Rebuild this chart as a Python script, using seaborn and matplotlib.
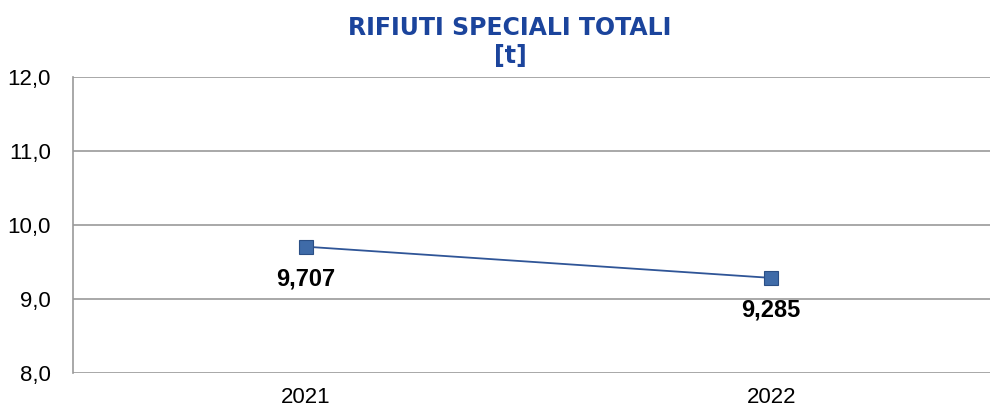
import matplotlib
matplotlib.use("Agg")
import matplotlib.pyplot as plt
import seaborn as sns
import pandas as pd
from matplotlib.ticker import FuncFormatter, FixedLocator

years = ["2021", "2022"]
values = [9.707, 9.285]
value_labels = ["9,707", "9,285"]
title = "RIFIUTI SPECIALI TOTALI\n[t]"

sns.set_style("white")
plt.rcParams['font.family'] = ['Liberation Sans', 'DejaVu Sans']

fig = plt.figure(figsize=(9.9, 4.09), dpi=100)
ax = fig.add_axes([73/990, 1 - 373/409, 1 - 73/990, (373 - 77)/409])

df = pd.DataFrame({"year": years, "value": values})
sns.lineplot(data=df, x="year", y="value", ax=ax, color="#2F5597", linewidth=1.3,
             marker="s", markersize=10, markerfacecolor="#3F6BA8",
             markeredgecolor="#2B4F85", markeredgewidth=0.8, sort=False)

ax.set_ylim(8, 12)
ax.set_xlim(-0.5, 1.47)
ax.yaxis.set_major_locator(FixedLocator([8, 9, 10, 11, 12]))
ax.yaxis.set_major_formatter(FuncFormatter(lambda v, p: f"{v:.1f}".replace(".", ",")))
ax.grid(axis="y", color="#999999", linewidth=1.2)
ax.grid(axis="x", visible=False)
for s in ["top", "right"]:
    ax.spines[s].set_visible(False)
ax.spines["bottom"].set_visible(False)
ax.spines["left"].set_color("#999999")
ax.spines["left"].set_linewidth(1.2)
ax.tick_params(axis="both", labelsize=16, colors="black", length=0)
ax.tick_params(axis="y", pad=16)
ax.tick_params(axis="x", pad=10)
ax.set_xlabel("")
ax.set_ylabel("")

for i, (v, lab) in enumerate(zip(values, value_labels)):
    ax.annotate(lab, (i, v), xytext=(0, -23), textcoords="offset points",
                ha="center", va="center", fontsize=17, fontweight="bold", color="black")

fig.text(510/990, 1 - 42/409, title, ha="center", va="center", fontsize=17,
         fontweight="heavy", color="#1B449C", linespacing=1.25,
         family=["DejaVu Sans"])

fig.savefig("out.png", dpi=100)
